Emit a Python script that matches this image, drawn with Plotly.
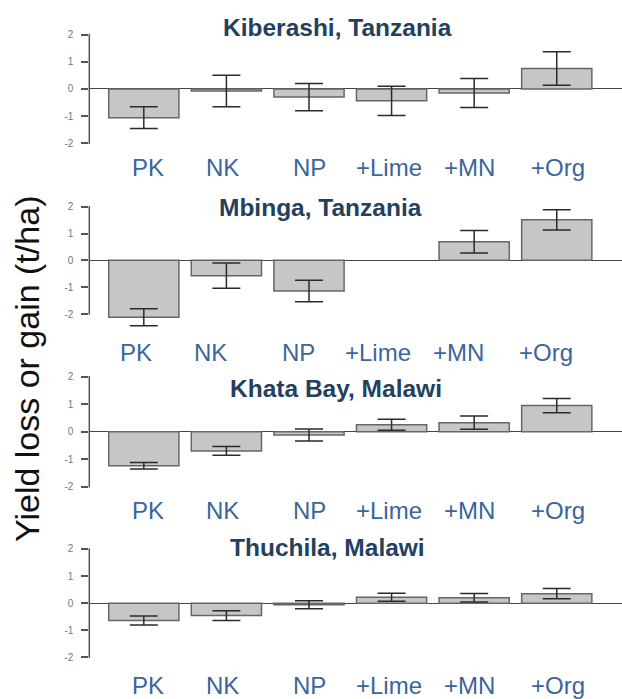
import plotly.graph_objects as go

treatments = ["PK", "NK", "NP", "+Lime", "+MN", "+Org"]
sites = ["Kiberashi, Tanzania", "Mbinga, Tanzania", "Khata Bay, Malawi", "Thuchila, Malawi"]

kiberashi_mean = [-1.06, -0.08, -0.30, -0.44, -0.15, 0.75]
kiberashi_err = [0.40, 0.58, 0.50, 0.54, 0.53, 0.62]
mbinga_mean = [-2.12, -0.57, -1.14, None, 0.69, 1.51]
mbinga_err = [0.32, 0.47, 0.40, None, 0.42, 0.38]
khata_mean = [-1.24, -0.70, -0.12, 0.25, 0.33, 0.95]
khata_err = [0.12, 0.16, 0.22, 0.20, 0.24, 0.26]
thuchila_mean = [-0.64, -0.46, -0.06, 0.22, 0.20, 0.35]
thuchila_err = [0.17, 0.18, 0.15, 0.15, 0.16, 0.19]

y_ticks = [-2, -1, 0, 1, 2]
y_title = "Yield loss or gain (t/ha)"

means = [kiberashi_mean, mbinga_mean, khata_mean, thuchila_mean]
errs = [kiberashi_err, mbinga_err, khata_err, thuchila_err]

W, H = 622, 699
def py(y):
    return 1 - y / H

# panel geometry in pixels (pixel of y=+2 tick, pixel of y=-2 tick)
panel_ticks = [(34.5, 143.3), (206.7, 314.0), (376.7, 486.7), (549.0, 657.3)]
Y_LO, Y_HI = -2.7, 2.2
title_pos = [(337.5, 27), (320.5, 207), (335.7, 388), (327.5, 547)]
label_y = [167, 352.5, 510.5, 685]
label_shift = [0, -11.5, 0, 0]
label_offsets = [3.7, -3.9, 0.9, -2.2, -4.5, 1.2]

FONT = "Liberation Sans, Arial, sans-serif"

fig = go.Figure()
for i in range(4):
    ax = "" if i == 0 else str(i + 1)
    fig.add_trace(go.Bar(
        x=treatments, y=means[i],
        error_y=dict(type="data", array=errs[i], symmetric=True,
                     color="#2b2b2b", thickness=1.5, width=14),
        marker=dict(color="#c6c6c6", line=dict(color="#666666", width=1.5)),
        showlegend=False,
        xaxis="x" + ax, yaxis="y" + ax,
    ))
    p2, pm2 = panel_ticks[i]
    ppu = (pm2 - p2) / 4.0
    top = p2 - (Y_HI - 2) * ppu
    bot = pm2 + (-2 - Y_LO) * ppu
    fig.layout["yaxis" + ax] = dict(
        domain=[py(bot), py(top)], range=[Y_LO, Y_HI],
        tickvals=y_ticks, ticktext=[str(v) for v in y_ticks],
        ticks="outside", ticklen=7, tickwidth=1.5, tickcolor="#555",
        showline=False,
        showgrid=False, zeroline=True, zerolinecolor="#444", zerolinewidth=1,
        tickfont=dict(family=FONT, size=10, color="#777"),
        ticklabelstandoff=6,
        anchor="x" + ax,
    )
    fig.layout["xaxis" + ax] = dict(
        domain=[89.3 / W, 1], range=[-0.66, 5.79],
        type="category", categoryorder="array", categoryarray=treatments,
        showticklabels=False, ticks="", showline=False, showgrid=False,
        zeroline=False, anchor="y" + ax,
    )
    # R-style axis line spanning the tick range only
    fig.add_shape(type="line", xref="x" + ax + " domain", yref="y" + ax,
                  x0=0, x1=0, y0=y_ticks[0] - 0.03, y1=y_ticks[-1] + 0.03,
                  line=dict(color="#555", width=1.5))
    tx, ty = title_pos[i]
    fig.add_annotation(text="<b>" + sites[i] + "</b>", x=tx / W, y=py(ty),
                       xref="paper", yref="paper", showarrow=False,
                       xanchor="center", yanchor="middle",
                       font=dict(family=FONT, size=24.5, color="#23405f"))
    for j, t in enumerate(treatments):
        fig.add_annotation(text=t, x=t, y=py(label_y[i]),
                           xref="x" + ax, yref="paper", showarrow=False,
                           xanchor="center", yanchor="middle",
                           xshift=label_shift[i] + label_offsets[j],
                           font=dict(family=FONT, size=24, color="#3b659b"))

fig.add_annotation(text=y_title, x=27 / W, y=py(369), xref="paper", yref="paper",
                   showarrow=False, textangle=-90, xanchor="center", yanchor="middle",
                   font=dict(family=FONT, size=34, color="#111"))

fig.update_layout(width=W, height=H, margin=dict(l=0, r=0, t=0, b=0),
                  paper_bgcolor="white", plot_bgcolor="white",
                  bargap=0.15)
fig.write_html("out.html", config={"displayModeBar": False})

with open("out.html", "r", encoding="utf-8") as f:
    html = f.read()
html = html.replace("<head>", "<head><style>html,body{margin:0;padding:0;overflow:hidden;}</style>", 1)
with open("out.html", "w", encoding="utf-8") as f:
    f.write(html)
